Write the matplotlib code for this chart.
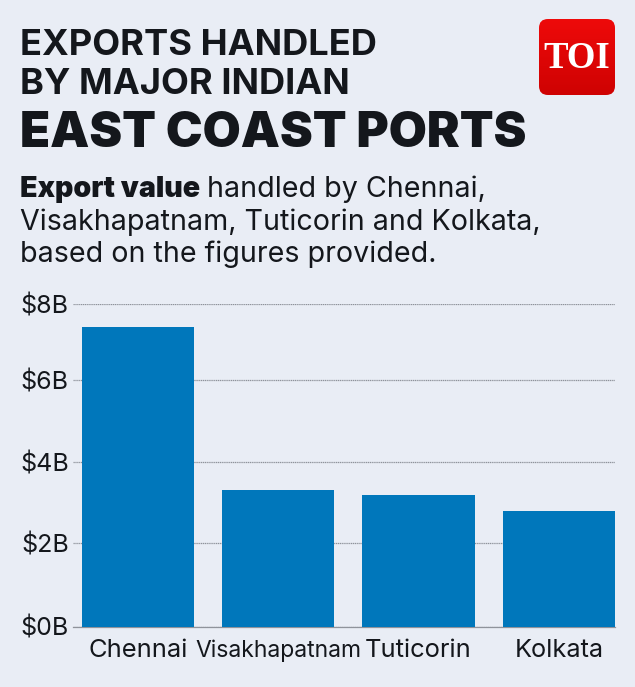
import numpy as np
import matplotlib
matplotlib.use("Agg")
from matplotlib import pyplot as plt
from matplotlib.colors import LinearSegmentedColormap
from matplotlib.patches import FancyBboxPatch

ports = ["Chennai", "Visakhapatnam", "Tuticorin", "Kolkata"]
values = [7.43, 3.39, 3.26, 2.87]
# the gridlines in the picture are not quite evenly spaced
yticks = [0, 2.06, 4.07, 6.11, 8]
yticklabels = ["$0B", "$2B", "$4B", "$6B", "$8B"]
label_sizes = [18.4, 16.5, 18.4, 18.2]

W, H = 635, 687
BG = "#e9edf5"
BLUE = "#0077bb"
INK = "#14171c"

plt.rcParams["font.family"] = ["Inter", "DejaVu Sans"]
plt.rcParams["text.parse_math"] = False

fig = plt.figure(figsize=(W / 100, H / 100), dpi=100, facecolor=BG)

# axes placed in pixels, y=0 at 626.5 and y=8 at 304
ax = fig.add_axes([73 / W, 1 - 626.5 / H, 542 / W, 322.5 / H], facecolor=BG)
ax.bar(range(len(ports)), values, width=0.8, color=BLUE, zorder=3)
ax.set_xlim(-0.463, 3.4)
ax.set_ylim(0, 8)
ax.set_yticks(yticks)
ax.set_yticklabels(yticklabels, fontsize=18, color=INK)
ax.set_xticks(range(len(ports)))
ax.set_xticklabels(ports, color=INK)
for lab, size in zip(ax.get_xticklabels(), label_sizes):
    lab.set_fontsize(size)
ax.tick_params(length=0, pad=3)
ax.tick_params(axis="x", pad=9)
ax.grid(axis="y", color="#8f939b", lw=0.9, ls=(0, (1, 0.5)), zorder=1)
ax.axhline(0, color="#8f939b", lw=0.9, clip_on=False, zorder=1)
for s in ax.spines.values():
    s.set_visible(False)


def put(x, y, s, size, weight="normal", **kw):
    return fig.text(x / W, 1 - y / H, s, fontsize=size, fontweight=weight, color=INK,
                    ha="left", va="baseline", **kw)


put(20, 55, "EXPORTS HANDLED", 26.1, "bold")
put(20, 94, "BY MAJOR INDIAN", 26.1, "bold")
put(20, 147, "EAST COAST PORTS", 35.5, "black")

t = put(20, 197, "Export value", 20.6, "black")
fig.canvas.draw()
bb = t.get_window_extent()
put(bb.x1 + 7, 197, "handled by Chennai,", 20.6)
put(20, 230, "Visakhapatnam, Tuticorin and Kolkata,", 20.6)
put(20, 262, "based on the figures provided.", 20.6)

# logo
logo = fig.add_axes([0, 0, 1, 1], facecolor="none")
logo.axis("off")
box = FancyBboxPatch((547, 27), 60, 60, boxstyle="round,pad=8,rounding_size=9",
                     fc="none", ec="none")
logo.add_patch(box)
reds = LinearSegmentedColormap.from_list("reds", ["#ee0a0a", "#cf0202"])
img = logo.imshow(np.linspace(0, 1, 50).reshape(-1, 1), cmap=reds,
                  extent=(539, 615, 95, 19), aspect="auto", zorder=1)
img.set_clip_path(box)
logo.set_xlim(0, W)
logo.set_ylim(H, 0)
logo.text(577, 58, "TOI", fontsize=26.5, fontweight="bold", family="Liberation Serif",
          color="white", ha="center", va="center", zorder=2)

fig.savefig("out.png", dpi=100, facecolor=BG)
